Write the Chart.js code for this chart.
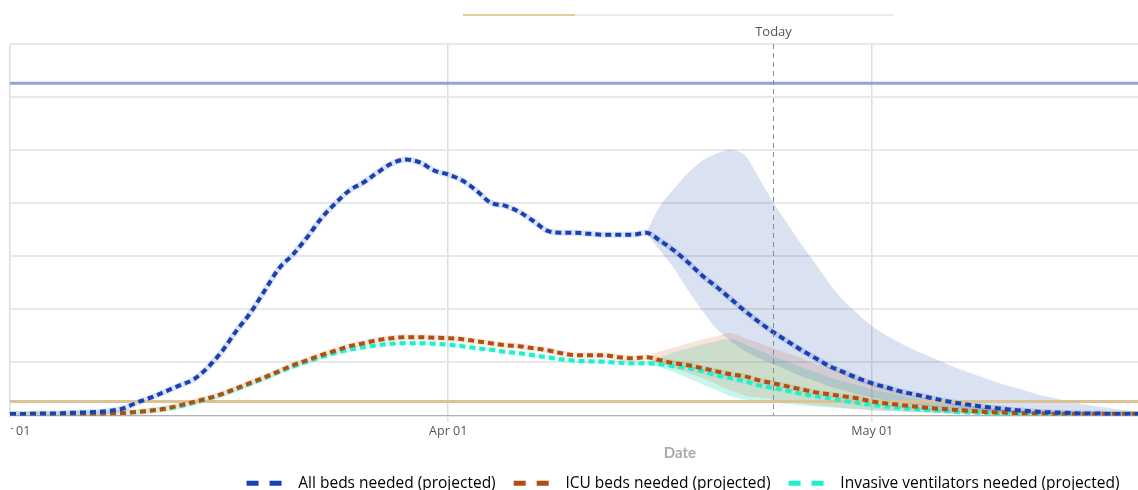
<!DOCTYPE html>
<html>
<head>
<meta charset="utf-8">
<script src="https://cdn.jsdelivr.net/npm/chart.js@4.4.1/dist/chart.umd.min.js"></script>
<style>
  html, body { margin: 0; padding: 0; background: #fff; width: 1138px; height: 490px; overflow: hidden; }
  #wrap { position: absolute; left: -60px; top: 0; width: 1480px; height: 501px; }
  .strip { position: absolute; top: 14px; height: 2px; }
  #edge { position: absolute; left: 0; top: 418px; width: 11px; height: 28px; background: #fff; }
</style>
</head>
<body>
<div class="strip" style="left:463px;width:112px;background:#e9cb9b"></div>
<div class="strip" style="left:575px;width:318px;background:#ececec"></div>
<div id="wrap"><canvas id="chart"></canvas></div>
<div id="edge"></div>
<script>
// x values are days since Mar 01 (2020)
const tickDays = [0, 31, 61, 92];
const tickLabels = ['Mar 01', 'Apr 01', 'May 01', 'Jun 01'];
const todayDay = 54;        // Apr 24
const bandStart = 45;       // Apr 15, first day of the uncertainty bands
const xMaxDay = 94.8;

const seriesNames = ['All beds needed (projected)', 'ICU beds needed (projected)', 'Invasive ventilators needed (projected)'];
const lineColors = ['#1741b5', '#b24f10', '#1ff0cc'];

const allBeds = [14,14,19,19,24,28,33,43,66,123,170,227,284,341,454,605,795,965,1173,1381,
  1514,1675,1854,1996,2119,2195,2289,2374,2412,2384,2308,2270,2214,2119,2005,1977,1920,1835,1741,1722,
  1722,1712,1703,1703,1703,1722,1646,1552,1438,1315,1211,1097,984,880,785,700,615,539,464,407,
  350,303,265,227,199,170,142,118,99,80,66,52,43,33,28,24,19,19,14,14,14];
const icuBeds = [9,9,9,9,9,14,14,19,24,33,47,66,95,128,161,203,255,307,359,416,
  473,520,568,610,653,681,710,728,738,738,733,728,719,700,681,662,653,634,615,587,
  568,568,568,549,539,549,520,492,473,445,416,388,369,331,303,274,246,218,199,180,
  161,132,114,99,85,71,61,52,43,33,28,24,19,19,14,14,14,14,14,14,14];
const ventilators = [9,9,9,9,9,14,14,19,24,33,47,61,85,118,156,199,246,298,350,407,
  459,506,549,587,620,643,662,676,681,681,676,667,653,634,620,601,587,568,549,530,
  516,511,506,497,492,492,482,464,445,416,378,350,322,284,260,232,203,180,161,137,
  118,99,85,71,61,52,43,33,28,24,19,14,14,14,14,14,14,14,14,14,14];

// uncertainty bands, from bandStart onwards
const allBedsUpper = [1722,1977,2138,2289,2403,2469,2507,2450,2233,2006,1807,1608,1428,1239,1078,955,842,757,
  681,615,558,501,445,397,350,303,265,227,189,161,132,104,85,66,47,38];
const allBedsLower = [1722,1551,1381,1173,984,814,700,605,539,482,426,369,322,274,237,199,170,142,
  123,104,85,71,57,47,38,28,24,19,19,14,14,14,14,14,14,14];
const icuUpper = [549,605,643,681,719,747,776,728,681,634,587,539,482,454,407,350,303,265,
  227,189,161,132,114,95,76,61,52,43,33,28,24,19,14,14,14,14];
const icuLower = [549,492,445,397,350,293,237,189,170,151,132,114,95,85,71,61,52,43,
  38,33,28,24,19,14,14,14,14,14,14,14,14,14,14,14,14,14];
const ventUpper = [492,549,596,634,672,700,719,672,615,558,511,454,407,359,322,284,246,218,
  189,161,142,123,104,85,71,57,47,38,28,24,19,14,14,14,14,14];
const ventLower = [492,454,407,350,293,237,180,151,137,123,109,95,85,76,66,57,47,43,
  38,33,28,24,19,14,14,14,14,14,14,14,14,14,14,14,14,14];

const allBedsAvailable = 3131;
const icuBedsAvailable = 132;

(function() {
    const toPoints = (arr, start = 0) => arr.map((v, i) => ({ x: start + i, y: v }));
    const flat = v => [{ x: 0, y: v }, { x: xMaxDay, y: v }];

    const line = (data, color) => ({
        data, borderColor: color, borderWidth: 4, borderDash: [6, 4],
        pointRadius: 0, fill: false, order: 0, cubicInterpolationMode: 'monotone'
    });
    const halo = (data, color) => ({
        data, borderColor: color, borderWidth: 6, pointRadius: 0, fill: false,
        order: 2, cubicInterpolationMode: 'monotone'
    });
    const band = (data, color, fill) => ({
        data, borderWidth: 0, borderColor: 'transparent', backgroundColor: color,
        pointRadius: 0, fill, order: 3, tension: 0.3
    });

    const datasets = [
        line(toPoints(allBeds), lineColors[0]),
        line(toPoints(icuBeds), lineColors[1]),
        line(toPoints(ventilators), lineColors[2]),
        { data: flat(allBedsAvailable), borderColor: '#90a4dd', borderWidth: 3, pointRadius: 0, fill: false, order: 1 },
        { data: flat(icuBedsAvailable), borderColor: '#dcc395', borderWidth: 3, pointRadius: 0, fill: false, order: 1 },
        halo(toPoints(allBeds), 'rgba(40, 80, 180, 0.16)'),
        halo(toPoints(icuBeds), 'rgba(200, 110, 50, 0.16)'),
        halo(toPoints(ventilators), 'rgba(30, 230, 200, 0.10)'),
        band(toPoints(allBedsUpper, bandStart), 'rgba(50, 90, 170, 0.18)', '+1'),
        band(toPoints(allBedsLower, bandStart), 'transparent', false),
        band(toPoints(icuUpper, bandStart), 'rgba(220, 120, 70, 0.2)', '+1'),
        band(toPoints(icuLower, bandStart), 'transparent', false),
        band(toPoints(ventUpper, bandStart), 'rgba(0, 220, 170, 0.22)', '+1'),
        band(toPoints(ventLower, bandStart), 'transparent', false)
    ];

    // dashed "Today" marker with its label above the plot
    const todayLine = {
        id: 'todayLine',
        afterDatasetsDraw(chart) {
            const { ctx, chartArea, scales: { x } } = chart;
            const px = Math.round(x.getPixelForValue(todayDay)) + 0.5;
            ctx.save();
            ctx.strokeStyle = '#8a8a8a';
            ctx.lineWidth = 1;
            ctx.setLineDash([5, 4]);
            ctx.beginPath();
            ctx.moveTo(px, chartArea.top);
            ctx.lineTo(px, chartArea.bottom);
            ctx.stroke();
            ctx.setLineDash([]);
            ctx.fillStyle = '#555';
            ctx.font = '13px "Open Sans", sans-serif';
            ctx.textAlign = 'center';
            ctx.textBaseline = 'middle';
            ctx.fillText('Today', px, chartArea.top - 12);
            ctx.restore();
        }
    };

    Chart.defaults.font.family = '"Open Sans", Lato, sans-serif';

    new Chart(document.getElementById('chart'), {
        type: 'line',
        data: { datasets },
        options: {
            responsive: true,
            maintainAspectRatio: false,
            animation: false,
            events: [],
            layout: { padding: { left: 70, right: 70, top: 44, bottom: 0 } },
            scales: {
                x: {
                    type: 'linear',
                    min: 0,
                    max: xMaxDay,
                    afterBuildTicks: scale => { scale.ticks = tickDays.map(v => ({ value: v })); },
                    afterFit: scale => { scale.paddingLeft = 0; scale.paddingRight = 0; },
                    ticks: {
                        autoSkip: false,
                        maxRotation: 0,
                        padding: 2,
                        color: '#555',
                        font: { size: 12.5 },
                        callback: v => tickLabels[tickDays.indexOf(v)]
                    },
                    grid: { color: '#dedede', lineWidth: 1.5, tickLength: 6 },
                    border: { display: true, color: '#b0b0b0', width: 1 },
                    title: {
                        display: true,
                        text: 'Date',
                        color: '#aaa',
                        font: { size: 15, weight: 'bold', family: 'Lato, sans-serif' },
                        padding: { top: 4, bottom: 1 }
                    }
                },
                y: {
                    min: 0,
                    max: 3500,
                    ticks: { display: false, stepSize: 500 },
                    grid: { color: '#e8e8e8', lineWidth: 2, drawTicks: false },
                    border: { display: false }
                }
            },
            plugins: {
                tooltip: { enabled: false },
                legend: {
                    position: 'bottom',
                    labels: {
                        usePointStyle: true,
                        pointStyleWidth: 50,
                        padding: 12,
                        color: '#3a3a3a',
                        font: { size: 15.5 },
                        generateLabels: () => seriesNames.map((name, i) => ({
                            text: name,
                            datasetIndex: i,
                            hidden: false,
                            pointStyle: 'line',
                            fillStyle: 'transparent',
                            strokeStyle: lineColors[i],
                            lineWidth: 5,
                            lineDash: [12, 11],
                            lineDashOffset: 17,
                            lineCap: 'butt'
                        }))
                    }
                }
            }
        },
        plugins: [todayLine]
    });
})();
</script>
</body>
</html>
